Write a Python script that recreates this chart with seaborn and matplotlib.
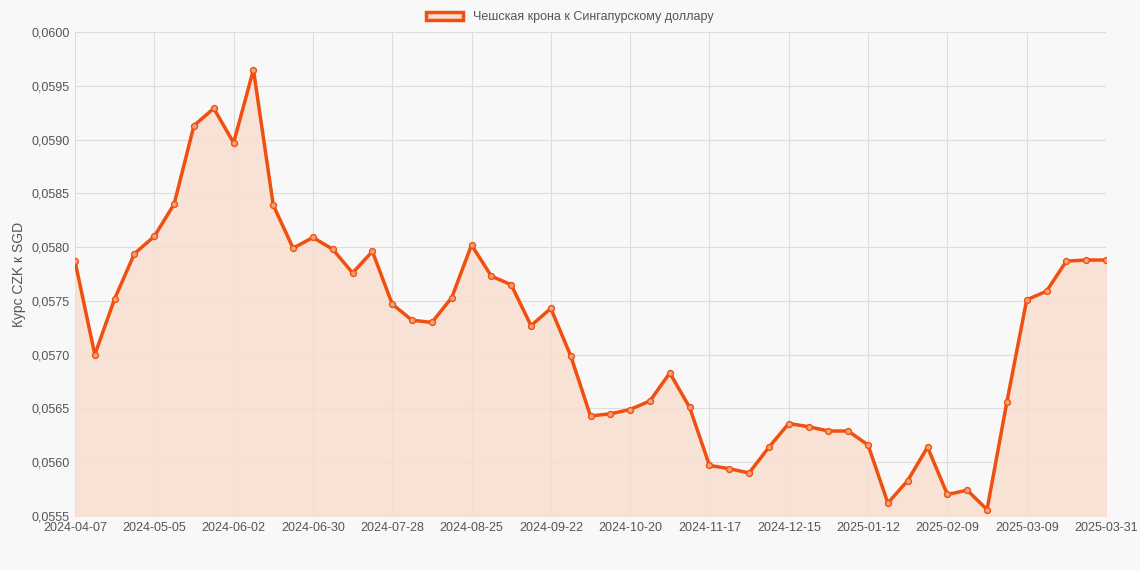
import matplotlib
matplotlib.use("Agg")
import matplotlib.pyplot as plt
import seaborn as sns
import pandas as pd
import numpy as np
from matplotlib.patches import Patch

values = [0.05787,0.05700,0.05752,0.05794,0.05810,0.05840,0.05913,0.05929,0.05897,0.05965,
          0.05839,0.05799,0.05809,0.05798,0.05776,0.05796,0.05747,0.05732,0.05730,0.05753,
          0.05802,0.05773,0.05765,0.05727,0.05743,0.05699,0.05643,0.05645,0.05649,0.05657,
          0.05683,0.05651,0.05597,0.05594,0.05590,0.05614,0.05636,0.05633,0.05629,0.05629,
          0.05616,0.05562,0.05583,0.05614,0.05570,0.05574,0.05556,0.05656,0.05751,0.05759,
          0.05787,0.05788,0.05788]
dates = [str(d.date()) for d in pd.date_range("2024-04-07", periods=52, freq="7D")] + ["2025-03-31"]
df = pd.DataFrame({"i": range(len(values)), "v": values})

sns.set_theme(style="whitegrid")
plt.rcParams['font.family'] = ['Liberation Sans', 'DejaVu Sans']
bg = "#f8f8f8"
fig = plt.figure(figsize=(11.4, 5.7), dpi=100, facecolor=bg)
ax = fig.add_axes([75/1140, 1-516/570, (1106-75)/1140, (516-32)/570])
ax.set_facecolor(bg)
col = "#f0500f"
ax.fill_between(df["i"], df["v"], 0.0555, color="#f9dccd", alpha=0.8, zorder=1)
sns.lineplot(data=df, x="i", y="v", ax=ax, color=col, linewidth=2.5, zorder=3)
ax.scatter(df["i"], df["v"], s=18, facecolor="#f5a27f", edgecolor=col, linewidth=1, zorder=4)
ax.set_xlim(0, len(values)-1)
ax.set_ylim(0.0555, 0.0600)
ticks = list(range(0, 52, 4)) + [52]
ax.set_xticks(ticks)
ax.set_xticklabels([dates[t] for t in ticks], fontsize=9, color="#555")
yt = np.arange(0.0555, 0.06001, 0.0005)
ax.set_yticks(yt)
ax.set_yticklabels([f"{v:.4f}".replace(".", ",") for v in yt], fontsize=9, color="#555")
ax.tick_params(axis="both", length=0, pad=4)
ax.grid(True, color="#dddddd", linewidth=0.8)
for s in ax.spines.values():
    s.set_visible(False)
ax.set_xlabel("")
ax.set_ylabel("Курс CZK к SGD", fontsize=10, color="#555")
fig.legend(handles=[Patch(facecolor="#f9dccd", edgecolor=col, linewidth=2.5,
                          label="Чешская крона к Сингапурскому доллару")],
           loc="upper center", bbox_to_anchor=(0.5, 1.0), frameon=False, fontsize=9,
           handlelength=3, labelcolor="#555")
fig.savefig("out.png", dpi=100, facecolor=bg)
